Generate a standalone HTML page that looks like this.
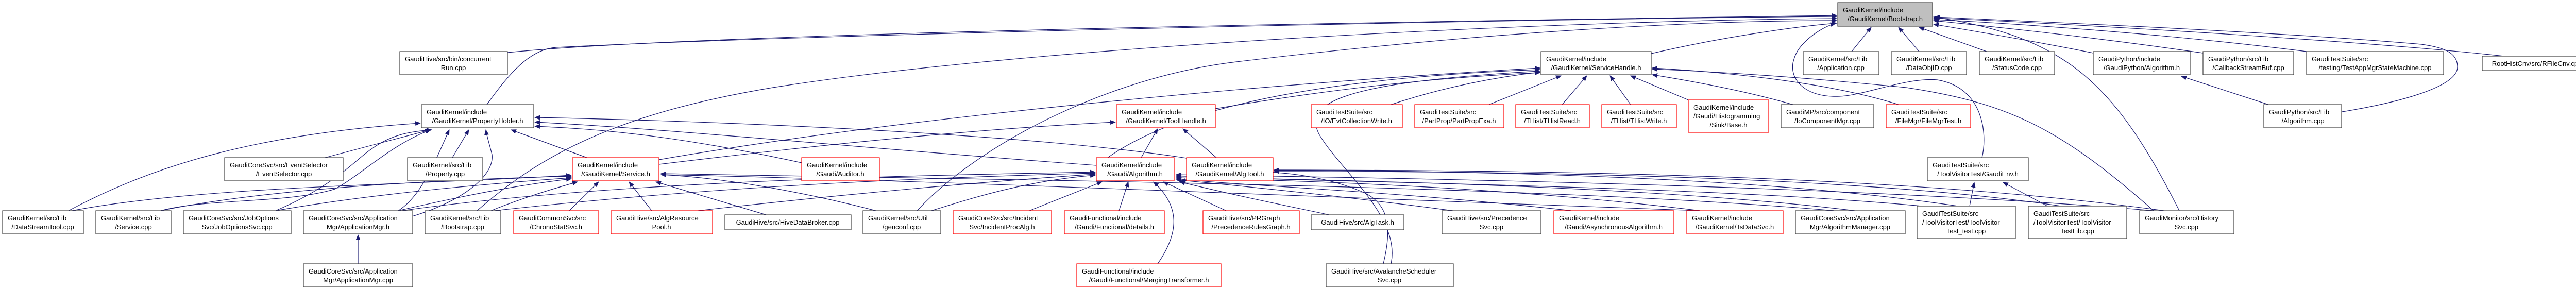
<!DOCTYPE html>
<html><head><meta charset="utf-8"><style>
html,body{margin:0;padding:0;background:#fff;}
svg{display:block;}
text{font-family:"Liberation Sans",sans-serif;font-size:13px;fill:#000;}
.e{fill:none;stroke:#191970;stroke-width:1.2;marker-end:url(#a);}
.n{fill:#fff;stroke:#404040;stroke-width:1.2;}
.r{fill:#fff;stroke:#ff0000;stroke-width:1.2;}
.g{fill:#bfbfbf;stroke:#404040;stroke-width:1.2;}
</style></head><body>
<svg width="5036" height="561" viewBox="0 0 5036 561" xmlns="http://www.w3.org/2000/svg">
<defs><marker id="a" markerWidth="11" markerHeight="9" refX="10" refY="4.5" orient="auto" markerUnits="userSpaceOnUse"><path d="M0,0L11,4.5L0,9z" fill="#191970"/></marker></defs>
<g>
<path class="e" d="M985,102 C1400,60 3000,38 3565,30"/>
<path class="e" d="M945,203 C990,140 1030,95 1080,92 C1600,65 3000,36 3565,32"/>
<path class="e" d="M3205,104 C3350,70 3500,50 3565,45"/>
<path class="e" d="M926,409 C1050,300 1200,220 1500,170 C2000,90 3000,40 3565,36"/>
<path class="e" d="M1780,409 C1900,280 2150,150 2400,120 C2900,60 3300,40 3565,40"/>
<path class="e" d="M3594,100 L3632,53"/>
<path class="e" d="M3725,100 L3685,53"/>
<path class="e" d="M3856,100 L3725,53"/>
<path class="e" d="M4063,103 C3950,80 3800,55 3753,47"/>
<path class="e" d="M4276,103 C4050,70 3850,50 3753,40"/>
<path class="e" d="M4477,100 C4200,65 3900,45 3753,38"/>
<path class="e" d="M4860,109 C4600,80 4000,45 3753,35"/>
<path class="e" d="M4230,409 C4100,150 4000,70 3753,33"/>
<path class="e" d="M3847,306 C3858,260 3850,170 3760,155 C3700,150 3620,185 3570,187 C3500,190 3470,150 3482,115 C3490,85 3530,55 3563,45"/>
<path class="e" d="M4546,217 C4650,200 4770,170 4770,130 C4770,100 4740,92 4700,86 C4400,60 3900,40 3755,33"/>
<path class="e" d="M133,409 C300,320 500,260 816,239"/>
<path class="e" d="M631,306 L835,252"/>
<path class="e" d="M535,409 C650,360 690,310 720,290 C760,260 800,255 838,252"/>
<path class="e" d="M312,409 C400,385 560,395 650,367 C700,340 760,280 836,252"/>
<path class="e" d="M773,409 C820,380 850,300 872,252"/>
<path class="e" d="M878,306 L910,252"/>
<path class="e" d="M800,420 C900,390 960,340 955,300 C950,280 945,265 943,252"/>
<path class="e" d="M1139,306 L992,252"/>
<path class="e" d="M1556,316 C1300,260 1150,250 1038,245"/>
<path class="e" d="M2128,321 C1700,290 1300,250 1038,237"/>
<path class="e" d="M2303,307 C2000,260 1400,235 1038,228"/>
<path class="e" d="M140,409 C400,360 800,360 1109,340"/>
<path class="e" d="M312,409 C500,370 800,350 1109,342"/>
<path class="e" d="M535,409 C700,380 900,360 1109,345"/>
<path class="e" d="M773,409 C900,380 1000,360 1109,347"/>
<path class="e" d="M953,409 C1000,390 1060,370 1121,353"/>
<path class="e" d="M1105,409 L1162,353"/>
<path class="e" d="M1265,409 L1221,353"/>
<path class="e" d="M1487,417 L1273,353"/>
<path class="e" d="M3560,409 C3000,360 2000,350 1283,337"/>
<path class="e" d="M3300,409 C2500,380 1800,350 1283,339"/>
<path class="e" d="M1700,409 C1550,370 1400,345 1283,339"/>
<path class="e" d="M1808,409 C1900,380 2000,350 2126,340"/>
<path class="e" d="M1998,409 L2139,353"/>
<path class="e" d="M2172,409 L2190,353"/>
<path class="e" d="M2247,512 C2290,450 2290,400 2239,353"/>
<path class="e" d="M2380,409 L2258,353"/>
<path class="e" d="M2685,512 C2700,450 2700,400 2650,375 C2550,330 2400,320 2291,353"/>
<path class="e" d="M1355,409 C1700,370 1950,350 2126,338"/>
<path class="e" d="M960,409 C1400,360 1800,345 2126,336"/>
<path class="e" d="M780,409 C1200,350 1800,340 2126,334"/>
<path class="e" d="M2580,417 C2500,400 2400,380 2290,353"/>
<path class="e" d="M2820,409 C2600,380 2400,360 2283,349"/>
<path class="e" d="M3050,409 C2700,370 2400,360 2283,347"/>
<path class="e" d="M3300,409 C2900,360 2500,350 2283,345"/>
<path class="e" d="M3600,409 C3200,360 2600,350 2283,343"/>
<path class="e" d="M3730,400 C3300,360 2600,355 2283,341"/>
<path class="e" d="M4180,409 C3600,360 2700,345 2283,339"/>
<path class="e" d="M3800,400 C3400,340 2800,331 2473,331"/>
<path class="e" d="M4000,400 C3600,340 2900,332 2473,333"/>
<path class="e" d="M4200,409 C3700,340 3000,330 2473,330"/>
<path class="e" d="M2215,306 L2247,250"/>
<path class="e" d="M2361,306 L2296,250"/>
<path class="e" d="M1279,319 C1600,280 1900,250 2165,237"/>
<path class="e" d="M2359,211 C2600,170 2800,150 2989,141"/>
<path class="e" d="M2700,203 C2800,170 2900,150 2989,140"/>
<path class="e" d="M2890,203 L3030,147"/>
<path class="e" d="M3032,203 L3080,147"/>
<path class="e" d="M3165,203 L3125,147"/>
<path class="e" d="M3277,194 L3165,147"/>
<path class="e" d="M3480,203 C3400,180 3300,160 3207,145"/>
<path class="e" d="M3685,203 C3550,160 3350,140 3207,132"/>
<path class="e" d="M4180,409 C4000,250 3900,200 3700,170 C3500,150 3350,140 3207,134"/>
<path class="e" d="M1279,310 C1800,220 2500,160 2989,132"/>
<path class="e" d="M2150,306 C2300,200 2600,150 2989,135"/>
<path class="e" d="M2700,512 C2720,420 2600,330 2560,260 C2530,200 2600,160 2989,138"/>
<path class="e" d="M695,512 L695,456"/>
<path class="e" d="M3823,400 L3832,354"/>
<path class="e" d="M3974,400 L3888,354"/>
<path class="e" d="M4403,203 L4234,148"/>
</g>
<g>
<rect class="g" x="3567" y="5" width="184" height="46"/><text x="3577" y="24">GaudiKernel/include</text><text x="3659" y="41" text-anchor="middle">/GaudiKernel/Bootstrap.h</text>

<rect class="n" x="776" y="100" width="209" height="45"/><text x="786" y="119">GaudiHive/src/bin/concurrent</text><text x="880" y="136" text-anchor="middle">Run.cpp</text>
<rect class="n" x="3500" y="100" width="147" height="45"/><text x="3510" y="119">GaudiKernel/src/Lib</text><text x="3573" y="136" text-anchor="middle">/Application.cpp</text>
<rect class="n" x="3671" y="100" width="146" height="45"/><text x="3681" y="119">GaudiKernel/src/Lib</text><text x="3744" y="136" text-anchor="middle">/DataObjID.cpp</text>
<rect class="n" x="3842" y="100" width="146" height="45"/><text x="3852" y="119">GaudiKernel/src/Lib</text><text x="3915" y="136" text-anchor="middle">/StatusCode.cpp</text>
<rect class="n" x="4063" y="100" width="188" height="45"/><text x="4073" y="119">GaudiPython/include</text><text x="4157" y="136" text-anchor="middle">/GaudiPython/Algorithm.h</text>
<rect class="n" x="4276" y="100" width="176" height="45"/><text x="4286" y="119">GaudiPython/src/Lib</text><text x="4364" y="136" text-anchor="middle">/CallbackStreamBuf.cpp</text>
<rect class="n" x="4477" y="100" width="266" height="45"/><text x="4487" y="119">GaudiTestSuite/src</text><text x="4610" y="136" text-anchor="middle">/testing/TestAppMgrStateMachine.cpp</text>
<rect class="n" x="4818" y="109" width="212" height="28"/><text x="4924" y="128" text-anchor="middle">RootHistCnv/src/RFileCnv.cpp</text>
<rect class="n" x="2991" y="100" width="214" height="45"/><text x="3001" y="119">GaudiKernel/include</text><text x="3098" y="136" text-anchor="middle">/GaudiKernel/ServiceHandle.h</text>

<rect class="n" x="818" y="203" width="218" height="45"/><text x="828" y="222">GaudiKernel/include</text><text x="927" y="239" text-anchor="middle">/GaudiKernel/PropertyHolder.h</text>
<rect class="r" x="2167" y="203" width="192" height="45"/><text x="2177" y="222">GaudiKernel/include</text><text x="2263" y="239" text-anchor="middle">/GaudiKernel/ToolHandle.h</text>
<rect class="r" x="2545" y="203" width="177" height="45"/><text x="2555" y="222">GaudiTestSuite/src</text><text x="2633" y="239" text-anchor="middle">/IO/EvtCollectionWrite.h</text>
<rect class="r" x="2746" y="203" width="173" height="45"/><text x="2756" y="222">GaudiTestSuite/src</text><text x="2832" y="239" text-anchor="middle">/PartProp/PartPropExa.h</text>
<rect class="r" x="2942" y="203" width="143" height="45"/><text x="2952" y="222">GaudiTestSuite/src</text><text x="3013" y="239" text-anchor="middle">/THist/THistRead.h</text>
<rect class="r" x="3109" y="203" width="145" height="45"/><text x="3119" y="222">GaudiTestSuite/src</text><text x="3181" y="239" text-anchor="middle">/THist/THistWrite.h</text>
<rect class="r" x="3277" y="194" width="156" height="63"/><text x="3287" y="213">GaudiKernel/include</text><text x="3287" y="230">/Gaudi/Histogramming</text><text x="3355" y="247" text-anchor="middle">/Sink/Base.h</text>
<rect class="n" x="3457" y="203" width="180" height="45"/><text x="3467" y="222">GaudiMP/src/component</text><text x="3547" y="239" text-anchor="middle">/IoComponentMgr.cpp</text>
<rect class="r" x="3661" y="203" width="164" height="45"/><text x="3671" y="222">GaudiTestSuite/src</text><text x="3743" y="239" text-anchor="middle">/FileMgr/FileMgrTest.h</text>
<rect class="n" x="4394" y="203" width="151" height="45"/><text x="4404" y="222">GaudiPython/src/Lib</text><text x="4470" y="239" text-anchor="middle">/Algorithm.cpp</text>

<rect class="n" x="436" y="306" width="230" height="45"/><text x="446" y="325">GaudiCoreSvc/src/EventSelector</text><text x="551" y="342" text-anchor="middle">/EventSelector.cpp</text>
<rect class="n" x="791" y="306" width="146" height="45"/><text x="801" y="325">GaudiKernel/src/Lib</text><text x="864" y="342" text-anchor="middle">/Property.cpp</text>
<rect class="r" x="1111" y="306" width="168" height="45"/><text x="1121" y="325">GaudiKernel/include</text><text x="1195" y="342" text-anchor="middle">/GaudiKernel/Service.h</text>
<rect class="r" x="1556" y="306" width="151" height="45"/><text x="1566" y="325">GaudiKernel/include</text><text x="1631" y="342" text-anchor="middle">/Gaudi/Auditor.h</text>
<rect class="r" x="2128" y="306" width="151" height="45"/><text x="2138" y="325">GaudiKernel/include</text><text x="2203" y="342" text-anchor="middle">/Gaudi/Algorithm.h</text>
<rect class="r" x="2303" y="306" width="168" height="45"/><text x="2313" y="325">GaudiKernel/include</text><text x="2387" y="342" text-anchor="middle">/GaudiKernel/AlgTool.h</text>
<rect class="n" x="3741" y="306" width="196" height="45"/><text x="3751" y="325">GaudiTestSuite/src</text><text x="3839" y="342" text-anchor="middle">/ToolVisitorTest/GaudiEnv.h</text>

<rect class="n" x="5" y="409" width="157" height="45"/><text x="15" y="428">GaudiKernel/src/Lib</text><text x="83" y="445" text-anchor="middle">/DataStreamTool.cpp</text>
<rect class="n" x="186" y="409" width="146" height="45"/><text x="196" y="428">GaudiKernel/src/Lib</text><text x="259" y="445" text-anchor="middle">/Service.cpp</text>
<rect class="n" x="356" y="409" width="209" height="45"/><text x="366" y="428">GaudiCoreSvc/src/JobOptions</text><text x="460" y="445" text-anchor="middle">Svc/JobOptionsSvc.cpp</text>
<rect class="n" x="589" y="409" width="212" height="45"/><text x="599" y="428">GaudiCoreSvc/src/Application</text><text x="695" y="445" text-anchor="middle">Mgr/ApplicationMgr.h</text>
<rect class="n" x="825" y="409" width="147" height="45"/><text x="835" y="428">GaudiKernel/src/Lib</text><text x="898" y="445" text-anchor="middle">/Bootstrap.cpp</text>
<rect class="r" x="997" y="409" width="165" height="45"/><text x="1007" y="428">GaudiCommonSvc/src</text><text x="1079" y="445" text-anchor="middle">/ChronoStatSvc.h</text>
<rect class="r" x="1186" y="409" width="197" height="45"/><text x="1196" y="428">GaudiHive/src/AlgResource</text><text x="1284" y="445" text-anchor="middle">Pool.h</text>
<rect class="n" x="1407" y="417" width="245" height="29"/><text x="1529" y="436" text-anchor="middle">GaudiHive/src/HiveDataBroker.cpp</text>
<rect class="n" x="1675" y="409" width="151" height="45"/><text x="1685" y="428">GaudiKernel/src/Util</text><text x="1750" y="445" text-anchor="middle">/genconf.cpp</text>
<rect class="r" x="1850" y="409" width="191" height="45"/><text x="1860" y="428">GaudiCoreSvc/src/Incident</text><text x="1945" y="445" text-anchor="middle">Svc/IncidentProcAlg.h</text>
<rect class="r" x="2066" y="409" width="194" height="45"/><text x="2076" y="428">GaudiFunctional/include</text><text x="2163" y="445" text-anchor="middle">/Gaudi/Functional/details.h</text>
<rect class="r" x="2335" y="409" width="187" height="45"/><text x="2345" y="428">GaudiHive/src/PRGraph</text><text x="2428" y="445" text-anchor="middle">/PrecedenceRulesGraph.h</text>
<rect class="n" x="2545" y="417" width="180" height="29"/><text x="2635" y="436" text-anchor="middle">GaudiHive/src/AlgTask.h</text>
<rect class="n" x="2799" y="409" width="192" height="45"/><text x="2809" y="428">GaudiHive/src/Precedence</text><text x="2895" y="445" text-anchor="middle">Svc.cpp</text>
<rect class="r" x="3016" y="409" width="233" height="45"/><text x="3026" y="428">GaudiKernel/include</text><text x="3132" y="445" text-anchor="middle">/Gaudi/AsynchronousAlgorithm.h</text>
<rect class="r" x="3274" y="409" width="187" height="45"/><text x="3284" y="428">GaudiKernel/include</text><text x="3367" y="445" text-anchor="middle">/GaudiKernel/TsDataSvc.h</text>
<rect class="n" x="3485" y="409" width="213" height="45"/><text x="3495" y="428">GaudiCoreSvc/src/Application</text><text x="3591" y="445" text-anchor="middle">Mgr/AlgorithmManager.cpp</text>
<rect class="n" x="3721" y="400" width="191" height="63"/><text x="3731" y="419">GaudiTestSuite/src</text><text x="3731" y="436">/ToolVisitorTest/ToolVisitor</text><text x="3816" y="453" text-anchor="middle">Test_test.cpp</text>
<rect class="n" x="3937" y="400" width="191" height="63"/><text x="3947" y="419">GaudiTestSuite/src</text><text x="3947" y="436">/ToolVisitorTest/ToolVisitor</text><text x="4032" y="453" text-anchor="middle">TestLib.cpp</text>
<rect class="n" x="4153" y="409" width="183" height="45"/><text x="4163" y="428">GaudiMonitor/src/History</text><text x="4244" y="445" text-anchor="middle">Svc.cpp</text>

<rect class="n" x="589" y="512" width="212" height="45"/><text x="599" y="531">GaudiCoreSvc/src/Application</text><text x="695" y="548" text-anchor="middle">Mgr/ApplicationMgr.cpp</text>
<rect class="r" x="2090" y="512" width="280" height="45"/><text x="2100" y="531">GaudiFunctional/include</text><text x="2230" y="548" text-anchor="middle">/Gaudi/Functional/MergingTransformer.h</text>
<rect class="n" x="2574" y="512" width="247" height="45"/><text x="2584" y="531">GaudiHive/src/AvalancheScheduler</text><text x="2697" y="548" text-anchor="middle">Svc.cpp</text>
</g>
</svg>
</body></html>
